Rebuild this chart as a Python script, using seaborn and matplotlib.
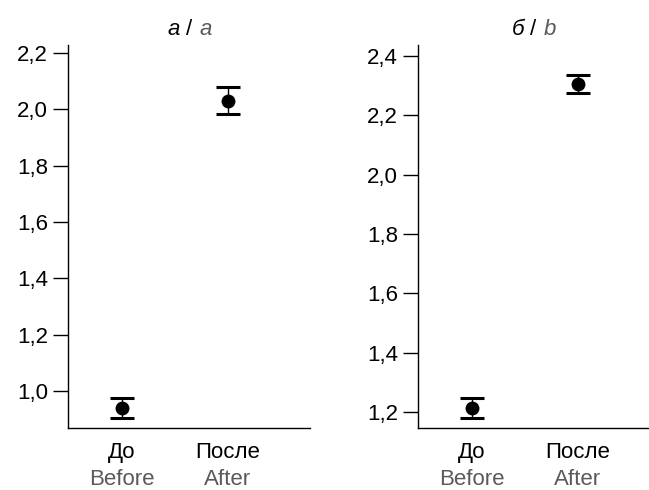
import matplotlib
matplotlib.use("Agg")
import matplotlib.pyplot as plt
import pandas as pd
import seaborn as sns
from matplotlib.ticker import FixedLocator, FuncFormatter

# data
groups_ru = ["До", "После"]
groups_en = ["Before", "After"]
means_a = [0.940, 2.031]
errs_a = [0.034, 0.048]
means_b = [1.213, 2.306]
errs_b = [0.033, 0.031]
yticks_a = [1.0, 1.2, 1.4, 1.6, 1.8, 2.0, 2.2]
yticks_b = [1.2, 1.4, 1.6, 1.8, 2.0, 2.2, 2.4]

sns.set_style("ticks")
plt.rcParams['font.family'] = ['Liberation Sans', 'DejaVu Sans']
GRAY = "#5a5a5a"
FS = 16

fig = plt.figure(figsize=(6.49, 4.90), dpi=100)
ax_a = fig.add_axes([0.1048, 0.1265, 0.3729, 0.7816])
ax_b = fig.add_axes([0.644, 0.1265, 0.356, 0.7816])


def panel(ax, means, errs, yticks, ylim, xright, t_ru, t_en):
    df = pd.DataFrame({"group": groups_ru, "value": means})
    sns.pointplot(data=df, x="group", y="value", order=groups_ru, errorbar=None,
                  color="black", marker="o", markersize=10.0, markeredgewidth=0,
                  linestyle="none", ax=ax, zorder=3)
    ax.errorbar(range(len(groups_ru)), means, yerr=errs, fmt="none", ecolor="black",
                elinewidth=1.0, capsize=8.4, capthick=2.2, zorder=2)
    ax.set_ylim(*ylim)
    ax.set_xlim(-0.509, xright)
    ax.yaxis.set_major_locator(FixedLocator(yticks))
    ax.yaxis.set_major_formatter(FuncFormatter(lambda v, p: f"{v:.1f}".replace(".", ",")))
    ax.tick_params(axis="y", length=10.5, width=1.0, pad=4, labelsize=FS, colors="black")
    ax.set_xticks(range(len(groups_ru)))
    ax.set_xticklabels(groups_ru)
    ax.tick_params(axis="x", length=0, pad=10, labelsize=FS, colors="black")
    for i, lab in enumerate(groups_en):
        ax.annotate(lab, xy=(i, 0), xycoords=("data", "axes fraction"),
                    xytext=(0, -41), textcoords="offset points",
                    ha="center", va="baseline", fontsize=FS, color=GRAY)
    ax.set_xlabel("")
    ax.set_ylabel("")
    sns.despine(ax=ax)
    for s in ["left", "bottom"]:
        ax.spines[s].set_linewidth(1.0)
        ax.spines[s].set_color("black")
    # two-colour title
    kw = dict(xycoords="axes fraction", textcoords="offset points", va="center",
              fontsize=FS)
    ax.annotate("/", xy=(0.5, 1.0), xytext=(0, 11.5), ha="center", color="black", **kw)
    ax.annotate(t_ru, xy=(0.5, 1.0), xytext=(-6.5, 11.5), ha="right", color="black",
                style="italic", **kw)
    ax.annotate(t_en, xy=(0.5, 1.0), xytext=(7.5, 11.5), ha="left", color=GRAY,
                style="italic", **kw)


panel(ax_a, means_a, errs_a, yticks_a, (0.869, 2.228), 1.774, "а", "a")
panel(ax_b, means_b, errs_b, yticks_b, (1.146, 2.437), 1.67, "б", "b")

fig.savefig("out.png", dpi=100)
